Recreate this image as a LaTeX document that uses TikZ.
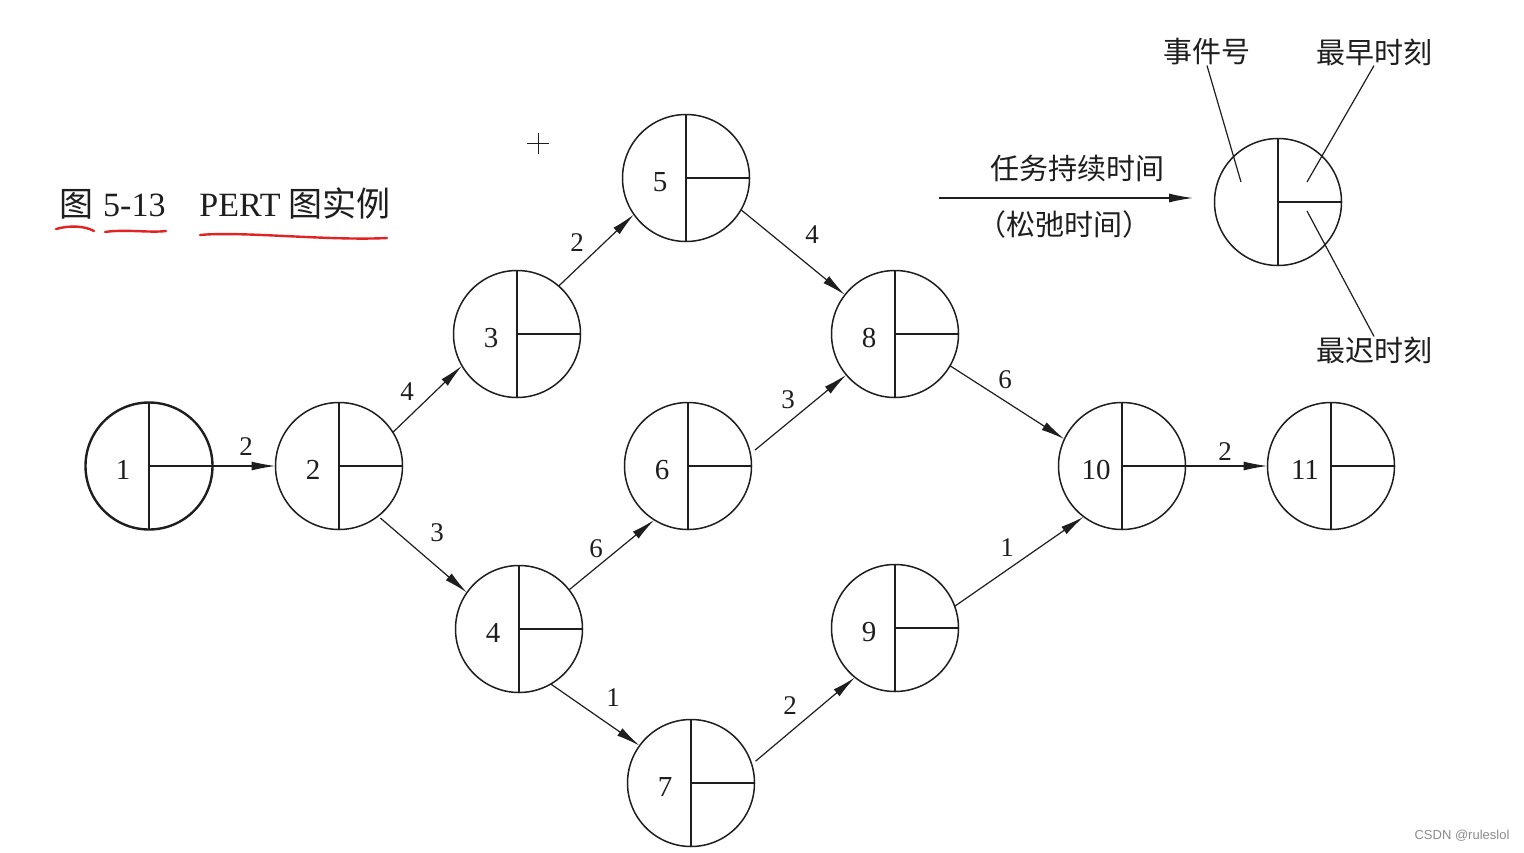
\documentclass[tikz,border=0pt]{standalone}
\usepackage{fontspec}
\setmainfont{Liberation Serif}
\newfontfamily\cjk{Noto Sans CJK SC}
\newfontfamily\wmfont{Liberation Sans}
\usetikzlibrary{arrows.meta}
\definecolor{ink}{RGB}{30,30,30}
\definecolor{pen}{RGB}{225,35,35}
\definecolor{wm}{RGB}{140,140,140}
\newcommand\setfs[1]{\fontsize{#1}{#1}\selectfont}
\tikzset{
  evt/.style={circle, draw=ink, line width=1.5pt, minimum size=127pt, inner sep=0pt, outer sep=0pt},
  evtbold/.style={evt, line width=2.4pt},
  part/.style={draw=ink, line width=1.5pt},
  num/.style={font=\setfs{29pt}, text=ink, inner sep=0pt},
  lbl/.style={font=\setfs{27pt}, text=ink, inner sep=0pt},
  flow/.style={draw=ink, line width=1.2pt, -{Latex[length=24pt,width=9pt]}},
  cjklbl/.style={font=\cjk\setfs{29pt}, text=ink, inner sep=0pt},
  leader/.style={draw=ink, line width=1.2pt},
  redline/.style={draw=pen, line width=2.4pt, line cap=round}
}
\begin{document}
\begin{tikzpicture}[x=1pt, y=-1pt, line join=round]
\fill[white] (0,0) rectangle (1524,852);
\useasboundingbox (0,0) rectangle (1524,852);

% event nodes
\foreach \n/\x/\y/\s in {1/149/466/evtbold, 2/339/466/evt, 3/517/334/evt, 4/519/629/evt,
  5/686/178/evt, 6/688/466/evt, 7/691/783/evt, 8/895/334/evt, 9/895/628/evt,
  10/1122/466/evt, 11/1331/466/evt} {
  \node[\s] (n\n) at (\x,\y) {};
  \draw[part] (n\n.north) -- (n\n.south) (n\n.center) -- (n\n.east);
  \node[num] (t\n) at (\x-26,\y+4) {\n};
}

% activities
\draw[flow] (n1.east) -- (n2.west);
\draw[flow] (n2.32) -- (n3.210);
\draw[flow, shorten <=3pt] (n2.-52) -- (n4.145);
\draw[flow] (n3.49) -- (n5.215);
\draw[flow] (n5.-30) -- (n8.142);
\draw[flow] (n4.38) -- (n6.238);
\draw[flow] (n4.-60) -- (n7.144);
\draw[flow, shorten <=6pt] (n6.11) -- (n8.220);
\draw[flow, shorten <=5pt] (n7.17) -- (n9.231);
\draw[flow] (n8.-30) -- (n10.155);
\draw[flow] (n9.20) -- (n10.233);
\draw[flow] (n10.east) -- (n11.west);

% durations
\node[lbl] (l12) at (246,447) {2};
\node[lbl] (l23) at (407,392) {4};
\node[lbl] (l24) at (437,533) {3};
\node[lbl] (l35) at (577,243) {2};
\node[lbl] (l58) at (812,235) {4};
\node[lbl] (l46) at (596,549) {6};
\node[lbl] (l68) at (788,400) {3};
\node[lbl] (l47) at (613,698) {1};
\node[lbl] (l79) at (790,706) {2};
\node[lbl] (l810) at (1005,380) {6};
\node[lbl] (l910) at (1007,548) {1};
\node[lbl] (l1011) at (1225,452) {2};

% legend
\node[evt] (leg) at (1278,202) {};
\draw[part] (leg.north) -- (leg.south) (leg.center) -- (leg.east);
\coordinate (la) at (939,198);
\coordinate (lb) at (1193,198);
\draw[flow] (la) -- (lb);
\node[cjklbl] (dur) at (1077,168) {任务持续时间};
\node[cjklbl] (slack) at (1064,224) {（松弛时间）};
\node[cjklbl] (evno) at (1207,52) {事件号};
\node[cjklbl] (early) at (1374,52) {最早时刻};
\node[cjklbl] (late) at (1374,350) {最迟时刻};
\coordinate (p1) at (1241,182);
\coordinate (p2) at (1307,182);
\coordinate (p3) at (1307,211);
\draw[leader] (evno.south) -- (p1);
\draw[leader] (early.south) -- (p2);
\draw[leader] (late.north) -- (p3);

% title
\node[anchor=base west, inner sep=0pt, text=ink, font=\setfs{34pt}] (title) at (59,216)
  {{\cjk 图}\hspace{10pt}5-13\hspace{34pt}PERT\hspace{8pt}{\cjk 图实例}};
\draw[redline] (56,229) .. controls (70,225) and (85,226) .. (94,231);
\draw[redline] (105,232) .. controls (125,229) and (150,233) .. (166,231);
\draw[redline] (200,235) .. controls (240,231) and (330,241) .. (387,238);

% cursor mark
\draw[ink, line width=0.9pt] (527,143) -- (549,143) (538,133) -- (538,154);

% watermark
\node[font=\wmfont\setfs{13pt}, text=wm, inner sep=0pt] (wmk) at (1462,836) {CSDN @ruleslol};
\end{tikzpicture}
\end{document}
